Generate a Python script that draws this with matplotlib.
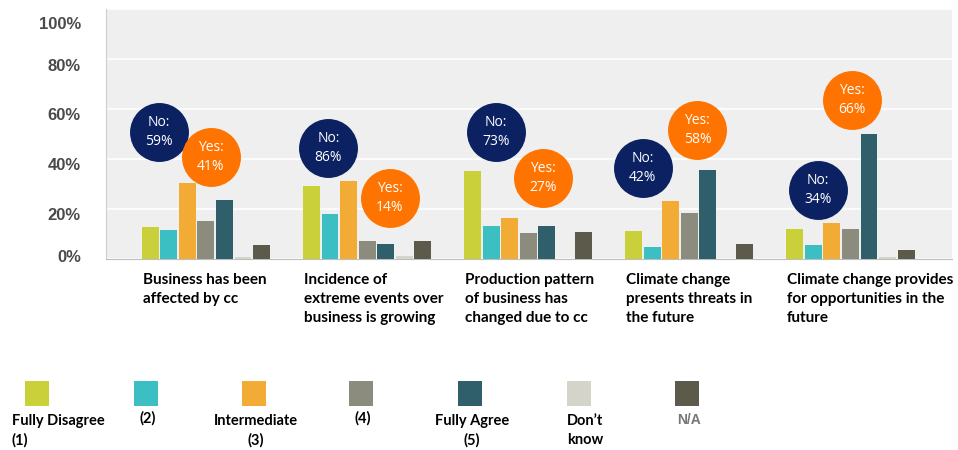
import numpy as np
import matplotlib
matplotlib.use('Agg')
import matplotlib.pyplot as plt
import matplotlib.transforms as mtransforms
from matplotlib.patches import Rectangle

# categories and series
categories = ['Business has been\naffected by cc',
              'Incidence of\nextreme events over\nbusiness is growing',
              'Production pattern\nof business has\nchanged due to cc',
              'Climate change\npresents threats in\nthe future',
              'Climate change provides\nfor opportunities in the\nfuture']
series_names = ['Fully Disagree\n(1)', '(2)', 'Intermediate\n(3)', '(4)',
                'Fully Agree\n(5)', 'Don\u2019t\nknow', 'N/A']
colors = ['#C9D03A', '#3CBFC2', '#F2AC36', '#8B8C7D', '#2F5F6B', '#D4D4CA', '#5C5B4B']

fully_disagree = [12.8, 29.2, 35.1, 11.1, 12.1]
two = [11.7, 18.2, 13.1, 4.8, 5.8]
intermediate = [30.5, 31.4, 16.6, 23.4, 14.5]
four = [15.4, 7.3, 10.4, 18.5, 12.0]
fully_agree = [23.5, 5.9, 13.1, 35.8, 50.0]
dont_know = [1.0, 1.2, 0.0, 0.0, 1.0]
na = [5.8, 7.3, 10.7, 5.9, 3.6]
values = [fully_disagree, two, intermediate, four, fully_agree, dont_know, na]

no_pct = [59, 86, 73, 42, 34]
yes_pct = [41, 14, 27, 58, 66]
# bubble positions (x in group units, y in %)
no_pos = [(-0.29, 50.8), (0.76, 44.4), (1.80, 50.8), (2.71, 36.4), (3.80, 27.6)]
yes_pos = [(0.03, 40.8), (1.14, 24.4), (2.09, 32.4), (3.05, 51.6), (4.01, 63.6)]

label_font = ['Lato', 'DejaVu Sans']

fig = plt.figure(figsize=(9.58, 4.5), dpi=100)
ax = fig.add_axes([106/958, 1-259/450, 846/958, 250/450])
ax.set_facecolor('#EFEFEF')

ind = np.arange(len(categories))
pitch = 0.115
width = 0.105
for i, (vals, c) in enumerate(zip(values, colors)):
    ax.bar(ind + (i-3)*pitch, vals, width, color=c, zorder=3)

ax.set_xlim(-0.62, 4.63)
ax.set_ylim(0, 100)
ax.set_yticks([0, 20, 40, 60, 80, 100])
ax.set_yticklabels(['0%', '20%', '40%', '60%', '80%', '100%'],
                   fontsize=12, fontweight='bold', color='#4a4a4a',
                   family='Liberation Sans')
ax.tick_params(axis='y', length=0, pad=18)
# the labels in the original sit a little off the grid lines
shifts = [3, -5, -5, -5, -6, -14]
for lab, dy in zip(ax.get_yticklabels(), shifts):
    lab.set_transform(lab.get_transform() +
                      mtransforms.ScaledTranslation(0, dy/100, fig.dpi_scale_trans))
ax.set_xticks([])
ax.grid(axis='y', color='white', lw=1.2, zorder=0)
for s in ['top', 'right']:
    ax.spines[s].set_visible(False)
ax.spines['left'].set_color('#cfcfcf')
ax.spines['bottom'].set_color('#bdbdbd')

# bubbles
for (x, y), p in zip(no_pos, no_pct):
    ax.scatter([x], [y], s=1800, color='#0B2161', zorder=5, linewidths=0)
    ax.text(x, y, 'No:\n%d%%' % p, color='white', ha='center', va='center',
            fontsize=10, family='Open Sans', zorder=6, linespacing=1.3)
for (x, y), p in zip(yes_pos, yes_pct):
    ax.scatter([x], [y], s=1800, color='#FF7300', zorder=5, linewidths=0)
    ax.text(x, y, 'Yes:\n%d%%' % p, color='white', ha='center', va='center',
            fontsize=10, family='Open Sans', zorder=6, linespacing=1.3)

# category labels under the axis
for i, lab in enumerate(categories):
    ax.text(i + (-3)*pitch - width/2 + 0.005, -5.5, lab, ha='left', va='top',
            fontsize=11, fontweight='bold', family=label_font,
            linespacing=1.45, clip_on=False)

# legend in pixel coordinates
lx = [37, 146, 254, 361, 470, 579, 687]
leg = fig.add_axes([0, 0, 1, 1], facecolor='none')
leg.set_xlim(0, 958)
leg.set_ylim(450, 0)
leg.axis('off')
for x, c, name in zip(lx, colors, series_names):
    leg.add_patch(Rectangle((x-12, 381), 24, 25, color=c, lw=0))
    if name == 'N/A':
        leg.text(x+2, 420, name, ha='center', va='center', fontsize=10,
                 color='#777777', family='Liberation Sans', fontweight='bold')
    elif name.startswith('Fully Disagree'):
        leg.text(12, 414, name, ha='left', va='top', fontsize=10.5,
                 fontweight='bold', family=label_font, linespacing=1.45)
    elif name.startswith('Don'):
        leg.text(x-12, 414, name, ha='left', va='top', fontsize=10.5,
                 fontweight='bold', family=label_font, linespacing=1.45)
    elif '\n' in name:
        leg.text(x+2, 414, name, ha='center', va='top', fontsize=10.5,
                 fontweight='bold', family=label_font,
                 linespacing=1.45, multialignment='center')
    else:
        leg.text(x+2, 411, name, ha='center', va='top', fontsize=10.5,
                 fontweight='bold', family=label_font)

fig.savefig('out.png', dpi=100)
